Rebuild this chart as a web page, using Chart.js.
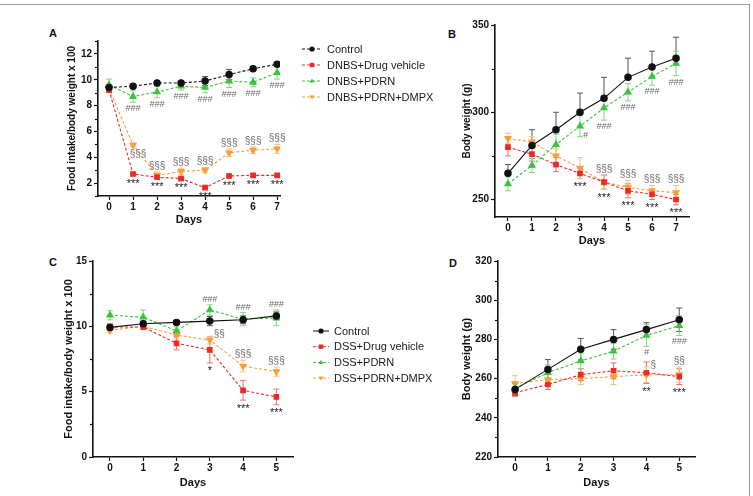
<!DOCTYPE html>
<html><head><meta charset="utf-8">
<script src="https://cdn.jsdelivr.net/npm/chart.js@4/dist/chart.umd.min.js"></script>
<style>
body{margin:0;background:#fff;width:753px;height:496px;overflow:hidden;position:relative;font-family:"Liberation Sans",Arial,sans-serif}
.frame{position:absolute;left:-3px;top:4px;width:753px;height:520px;border-top:1.5px solid #9a9a9a;border-right:1.5px solid #9a9a9a;box-sizing:border-box}
canvas{position:absolute}
.plbl{position:absolute;font-weight:bold;font-size:11px;color:#111;line-height:11px}
</style></head><body>
<div class="frame"></div>
<div class="plbl" style="left:49px;top:28px">A</div>
<div class="plbl" style="left:448px;top:29px">B</div>
<div class="plbl" style="left:49px;top:257px">C</div>
<div class="plbl" style="left:449px;top:258px">D</div>
<canvas id="cA" width="430" height="215" style="left:40px;top:20px"></canvas>
<canvas id="cB" width="260" height="236" style="left:440px;top:14px"></canvas>
<canvas id="cC" width="420" height="245" style="left:40px;top:250px"></canvas>
<canvas id="cD" width="260" height="245" style="left:445px;top:250px"></canvas>
<script>
// ---------- DATA ----------
const daysDNBS = [0,1,2,3,4,5,6,7];
const daysDSS  = [0,1,2,3,4,5];
const groupsDNBS = ['Control','DNBS+Drug vehicle','DNBS+PDRN','DNBS+PDRN+DMPX'];
const groupsDSS  = ['Control','DSS+Drug vehicle','DSS+PDRN','DSS+PDRN+DMPX'];

// Panel A: food intake / body weight x 100 (DNBS)
const foodA_control = [9.4, 9.5, 9.75, 9.75, 9.9, 10.4, 10.85, 11.2];
const foodA_vehicle = [9.2, 2.7, 2.45, 2.35, 1.65, 2.55, 2.6, 2.6];
const foodA_pdrn    = [9.6, 8.7, 9.05, 9.5, 9.4, 9.9, 9.8, 10.55];
const foodA_dmpx    = [9.3, 4.95, 2.6, 2.9, 3.0, 4.35, 4.55, 4.65];
const errA_control  = [0.15, 0.1, 0.1, 0.15, 0.35, 0.4, 0.15, 0.15];
const errA_vehicle  = [0.15, 0.1, 0.1, 0.1, 0.1, 0.1, 0.1, 0.1];
const errA_pdrn     = [0.45, 0.45, 0.45, 0.3, 0.4, 0.5, 0.35, 0.5];
const errA_dmpx     = [0.25, 0.15, 0.25, 0.25, 0.2, 0.3, 0.25, 0.35];
const sigA_vehicle  = ['', '***', '***', '***', '***', '***', '***', '***'];
const sigA_pdrn     = ['', '###', '###', '###', '###', '###', '###', '###'];
const sigA_dmpx     = ['', '§§§', '§§§', '§§§', '§§§', '§§§', '§§§', '§§§'];

// Panel B: body weight (g) (DNBS)
const bwB_control = [265, 281, 290, 300, 308, 320, 326, 331];
const bwB_vehicle = [280, 276, 270, 265, 260, 255, 253, 250];
const bwB_pdrn    = [259, 269.5, 281.5, 292, 302.5, 311.5, 320.5, 328];
const bwB_dmpx    = [285, 283, 275, 268, 260, 257, 255, 254];
const errB_control = [5, 9, 10, 11, 12, 11, 9, 12];
const errB_vehicle = [5, 4, 4, 3, 4, 4, 3, 3];
const errB_pdrn    = [4, 4, 6, 6, 7, 5, 5, 7];
const errB_dmpx    = [3, 3, 4, 6, 4, 4, 3, 4];
const sigB_vehicle = ['', '', '', '***', '***', '***', '***', '***'];
const sigB_pdrn    = ['', '', '', '#', '###', '###', '###', '###'];
const sigB_dmpx    = ['', '', '', '', '§§§', '§§§', '§§§', '§§§'];

// Panel C: food intake / body weight x 100 (DSS)
const foodC_control = [9.92, 10.2, 10.3, 10.4, 10.5, 10.8];
const foodC_vehicle = [9.95, 9.95, 8.7, 8.2, 5.1, 4.6];
const foodC_pdrn    = [10.85, 10.7, 9.65, 11.25, 10.55, 10.65];
const foodC_dmpx    = [9.7, 10.0, 9.33, 8.95, 6.96, 6.53];
const errC_control  = [0.2, 0.2, 0.15, 0.35, 0.3, 0.3];
const errC_vehicle  = [0.25, 0.2, 0.5, 1.0, 0.75, 0.6];
const errC_pdrn     = [0.35, 0.55, 0.3, 0.4, 0.5, 0.6];
const errC_dmpx     = [0.2, 0.2, 0.3, 0.3, 0.45, 0.35];
const sigC_vehicle  = ['', '', '', '*', '***', '***'];
const sigC_pdrn     = ['', '', '', '###', '###', '###'];
const sigC_dmpx     = ['', '', '', '§§', '§§§', '§§§'];

// Panel D: body weight (g) (DSS)
const bwD_control = [254.5, 264.7, 275, 280, 285, 290];
const bwD_vehicle = [252.8, 257, 262, 264, 263, 261];
const bwD_pdrn    = [255, 263, 269, 274, 282, 287];
const bwD_dmpx    = [257.5, 259.5, 260, 261, 262, 262];
const errD_control = [3, 5, 5.5, 5, 3.5, 6];
const errD_vehicle = [2, 2.5, 3, 4, 5.5, 4];
const errD_pdrn    = [3, 4, 4, 4, 5.5, 5];
const errD_dmpx    = [4, 3, 3, 4, 4, 4];
const sigD_vehicle = ['', '', '', '', '**', '***'];
const sigD_pdrn    = ['', '', '', '', '#', '###'];
const sigD_dmpx    = ['', '', '', '', '§', '§§'];

// Tick values
const ticksA_major = [2,4,6,8,10,12];
const ticksA_minor = [1,3,5,7,9,11,13];
const ticksB_major = [250,300,350];
const ticksB_minor = [275,325];
const ticksC_major = [0,5,10,15];
const ticksC_minor = [2.5,7.5,12.5];
const ticksD_major = [220,240,260,280,300,320];
const ticksD_minor = [230,250,270,290,310];

// ---------- STYLE ----------
const FONT = '"Liberation Sans", Arial, sans-serif';
const COL = {control:'#111111', vehicle:'#ee2a24', pdrn:'#3cc23c', dmpx:'#f6a03c'};
const ERRCOL = {control:'#555555', vehicle:'#f0706a', pdrn:'#7fd87f', dmpx:'#f8c07c'};
const SIGSTYLE = {
  '*': {font:'11px '+FONT, color:'#222'},
  '#': {font:'italic 9px '+FONT, color:'#6a6a6a'},
  '§': {font:'10px '+FONT, color:'#6a6a6a'}
};

function mk(label, key, xs, ys, err, sig, opts) {
  opts = opts || {};
  return {
    label, data: ys.map((y,i)=>({x:xs[i], y})),
    err, sig,
    errDir: opts.errDir || 'both',
    sigPos: opts.sigPos || 'below',
    sigOverride: opts.sigOverride || {},
    borderColor: COL[key], backgroundColor: COL[key],
    pointBorderColor: COL[key], pointBackgroundColor: COL[key],
    errColor: ERRCOL[key],
    borderWidth: 1.1,
    borderDash: opts.solid ? [] : [3,2],
    pointStyle: key==='control' ? 'circle' : key==='vehicle' ? 'rect' : 'triangle',
    pointRotation: key==='dmpx' ? 180 : 0,
    pointRadius: key==='control' ? 3.2 : (key==='vehicle' ? 3.2 : 3.6),
    pointHoverRadius: 0,
    tension: 0, fill: false
  };
}

// error bars
const errPlugin = {
  id:'errbars',
  beforeDatasetsDraw(chart){
    const ctx = chart.ctx, ys = chart.scales.y;
    chart.data.datasets.forEach((ds,di)=>{
      const meta = chart.getDatasetMeta(di);
      ctx.save();
      ctx.strokeStyle = ds.errColor; ctx.lineWidth = 1; ctx.setLineDash([]);
      meta.data.forEach((pt,i)=>{
        const v = ds.data[i].y, e = ds.err[i];
        const x = pt.x;
        const top = ys.getPixelForValue(v+e), bot = ys.getPixelForValue(v-e), mid = ys.getPixelForValue(v);
        const y1 = ds.errDir==='down' ? mid : top;
        const y2 = ds.errDir==='up' ? mid : bot;
        ctx.beginPath();
        ctx.moveTo(x,y1); ctx.lineTo(x,y2);
        if (ds.errDir!=='down'){ ctx.moveTo(x-3,top); ctx.lineTo(x+3,top); }
        if (ds.errDir!=='up'){ ctx.moveTo(x-3,bot); ctx.lineTo(x+3,bot); }
        ctx.stroke();
      });
      ctx.restore();
    });
  }
};

// significance labels
const sigPlugin = {
  id:'sig',
  afterDatasetsDraw(chart){
    const ctx = chart.ctx, ys = chart.scales.y;
    chart.data.datasets.forEach((ds,di)=>{
      if(!ds.sig) return;
      const meta = chart.getDatasetMeta(di);
      meta.data.forEach((pt,i)=>{
        const t = ds.sig[i]; if(!t) return;
        const st = SIGSTYLE[t[0]];
        const v = ds.data[i].y, e = ds.err[i];
        const pos = ds.sigOverride[i] || ds.sigPos;
        ctx.save();
        ctx.font = st.font; ctx.fillStyle = st.color;
        let x = pt.x, y;
        if (pos==='below'){ ctx.textAlign='center'; ctx.textBaseline='top'; y = ys.getPixelForValue(v-e)+2; if(t[0]==='*') y+=1; }
        else if (pos==='above'){ ctx.textAlign='center'; ctx.textBaseline='bottom'; y = ys.getPixelForValue(v+e)-1; }
        else if (pos==='right-up'){ ctx.textAlign='left'; ctx.textBaseline='middle'; x += 4; y = ys.getPixelForValue(v+e)-2; }
        else if (pos==='right-down'){ ctx.textAlign='left'; ctx.textBaseline='middle'; x += 3; y = ys.getPixelForValue(v-e)-1; }
        else if (pos==='below-right'){ ctx.textAlign='center'; ctx.textBaseline='top'; x += 5; y = ys.getPixelForValue(v-e)+2; }
        ctx.fillText(t, x, y);
        ctx.restore();
      });
    });
  }
};

// minor ticks on y axis
const minorPlugin = {
  id:'minor',
  afterDraw(chart, args, o){
    if(!o.values) return;
    const ctx = chart.ctx, ys = chart.scales.y, left = chart.chartArea.left;
    ctx.save(); ctx.strokeStyle='#111'; ctx.lineWidth=1.2;
    o.values.forEach(v=>{
      const y = Math.round(ys.getPixelForValue(v))+0.5;
      ctx.beginPath(); ctx.moveTo(left-3,y); ctx.lineTo(left,y); ctx.stroke();
    });
    ctx.restore();
  }
};

function drawMarker(ctx, style, rot, r, x, y){
  ctx.beginPath();
  if(style==='circle'){ ctx.arc(x,y,r,0,Math.PI*2); }
  else if(style==='rect'){ ctx.rect(x-r*0.85,y-r*0.85,r*1.7,r*1.7); }
  else { const s = rot===180 ? -1 : 1; const h = r*1.5;
    ctx.moveTo(x, y - s*r); ctx.lineTo(x + r*0.95, y + s*r*0.6); ctx.lineTo(x - r*0.95, y + s*r*0.6); ctx.closePath(); }
  ctx.fill();
}

// custom legend
const legendPlugin = {
  id:'cleg',
  afterDraw(chart, args, o){
    if(!o.x) return;
    const ctx = chart.ctx;
    chart.data.datasets.forEach((ds,i)=>{
      const y = o.y + i*o.dy;
      ctx.save();
      ctx.strokeStyle = ds.borderColor; ctx.lineWidth = 1;
      ctx.setLineDash(ds.borderDash||[]);
      ctx.beginPath(); ctx.moveTo(o.x,y); ctx.lineTo(o.x+o.len,y); ctx.stroke();
      ctx.setLineDash([]);
      ctx.fillStyle = ds.borderColor;
      drawMarker(ctx, ds.pointStyle, ds.pointRotation, 2.6, o.x+o.len/2, y);
      ctx.fillStyle = '#1a1a1a'; ctx.font = '11px '+FONT;
      ctx.textAlign='left'; ctx.textBaseline='middle';
      ctx.fillText(ds.label, o.x+o.len+5, y+0.5);
      ctx.restore();
    });
  }
};

function makeChart(id, cfg){
  const tickFont = {family:FONT, size:10, weight:'bold'};
  const titleFont = {family:FONT, size:11, weight:'bold'};
  return new Chart(document.getElementById(id), {
    type:'line',
    data:{datasets: cfg.datasets},
    options:{
      responsive:false, animation:false, devicePixelRatio:1,
      layout:{padding:cfg.padding},
      plugins:{legend:{display:false}, tooltip:{enabled:false},
        minor:{values:cfg.minor}, cleg:cfg.legend || {}},
      scales:{
        x:{type:'linear', min:cfg.xmin, max:cfg.xmax,
          afterBuildTicks:s=>{ s.ticks = cfg.xticks.map(v=>({value:v})); },
          afterFit:s=>{ s.height = cfg.xh; },
          ticks:{font:tickFont, color:'#111', padding:1, maxRotation:0, autoSkip:false, callback:v=>String(v)},
          grid:{drawOnChartArea:false, tickLength:4, tickColor:'#111', tickWidth:1.2},
          border:{color:'#111', width:1.6},
          title:{display:true, text:'Days', font:titleFont, color:'#111', padding:{top:0,bottom:cfg.xtitlePad}}
        },
        y:{type:'linear', min:cfg.ymin, max:cfg.ymax,
          afterBuildTicks:s=>{ s.ticks = cfg.yticks.map(v=>({value:v})); },
          afterFit:s=>{ s.width = cfg.yw; },
          ticks:{font:tickFont, color:'#111', padding:2, autoSkip:false, callback:v=>String(v)},
          grid:{drawOnChartArea:false, tickLength:4, tickColor:'#111', tickWidth:1.2},
          border:{color:'#111', width:1.6},
          title:{display:true, text:cfg.ytitle, font:{family:FONT, size:cfg.ytitleSize, weight:'bold'}, color:'#111', padding:{top:cfg.ytitlePad,bottom:0}}
        }
      }
    },
    plugins:[errPlugin, sigPlugin, minorPlugin, legendPlugin]
  });
}

// Panel A
makeChart('cA', {
  datasets:[
    mk(groupsDNBS[0],'control',daysDNBS,foodA_control,errA_control,null),
    mk(groupsDNBS[1],'vehicle',daysDNBS,foodA_vehicle,errA_vehicle,sigA_vehicle,{sigPos:'below'}),
    mk(groupsDNBS[2],'pdrn',daysDNBS,foodA_pdrn,errA_pdrn,sigA_pdrn,{sigPos:'below'}),
    mk(groupsDNBS[3],'dmpx',daysDNBS,foodA_dmpx,errA_dmpx,sigA_dmpx,{sigPos:'above', sigOverride:{1:'below-right'}})
  ],
  padding:{left:0, top:21, right:190, bottom:0},
  xmin:-0.46, xmax:7.12, xticks:daysDNBS, xh:39, xtitlePad:8,
  ymin:1, ymax:13, yticks:ticksA_major, minor:ticksA_minor, yw:58,
  ytitle:'Food intake/body weight x 100', ytitleSize:10, ytitlePad:26,
  legend:{x:262, y:29, dy:16, len:20}
});

// Panel B
makeChart('cB', {
  datasets:[
    mk(groupsDNBS[0],'control',daysDNBS,bwB_control,errB_control,null,{solid:true, errDir:'up'}),
    mk(groupsDNBS[1],'vehicle',daysDNBS,bwB_vehicle,errB_vehicle,sigB_vehicle,{sigPos:'below'}),
    mk(groupsDNBS[2],'pdrn',daysDNBS,bwB_pdrn,errB_pdrn,sigB_pdrn,{sigPos:'below', sigOverride:{3:'right-down'}}),
    mk(groupsDNBS[3],'dmpx',daysDNBS,bwB_dmpx,errB_dmpx,sigB_dmpx,{sigPos:'above'})
  ],
  padding:{left:0, top:11, right:11, bottom:0},
  xmin:-0.54, xmax:7.54, xticks:daysDNBS, xh:33, xtitlePad:2,
  ymin:240, ymax:350, yticks:ticksB_major, minor:ticksB_minor, yw:55,
  ytitle:'Body weight (g)', ytitleSize:10, ytitlePad:21
});

// Panel C
makeChart('cC', {
  datasets:[
    mk(groupsDSS[0],'control',daysDSS,foodC_control,errC_control,null,{solid:true}),
    mk(groupsDSS[1],'vehicle',daysDSS,foodC_vehicle,errC_vehicle,sigC_vehicle,{sigPos:'below'}),
    mk(groupsDSS[2],'pdrn',daysDSS,foodC_pdrn,errC_pdrn,sigC_pdrn,{sigPos:'above'}),
    mk(groupsDSS[3],'dmpx',daysDSS,foodC_dmpx,errC_dmpx,sigC_dmpx,{sigPos:'above', sigOverride:{3:'right-up'}})
  ],
  padding:{left:0, top:11, right:420-(293-40), bottom:0},
  xmin:-0.51, xmax:5.5, xticks:daysDSS, xh:38, xtitlePad:5,
  ymin:0, ymax:15, yticks:ticksC_major, minor:ticksC_minor, yw:53,
  ytitle:'Food intake/body weight x 100', ytitleSize:11, ytitlePad:22,
  legend:{x:273, y:81, dy:15.7, len:16}
});

// Panel D
makeChart('cD', {
  datasets:[
    mk(groupsDSS[0],'control',daysDSS,bwD_control,errD_control,null,{solid:true}),
    mk(groupsDSS[1],'vehicle',daysDSS,bwD_vehicle,errD_vehicle,sigD_vehicle,{sigPos:'below'}),
    mk(groupsDSS[2],'pdrn',daysDSS,bwD_pdrn,errD_pdrn,sigD_pdrn,{sigPos:'below'}),
    mk(groupsDSS[3],'dmpx',daysDSS,bwD_dmpx,errD_dmpx,sigD_dmpx,{sigPos:'above', sigOverride:{4:'right-up'}})
  ],
  padding:{left:0, top:11, right:10, bottom:0},
  xmin:-0.52, xmax:5.48, xticks:daysDSS, xh:38, xtitlePad:5,
  ymin:220, ymax:320, yticks:ticksD_major, minor:ticksD_minor, yw:53,
  ytitle:'Body weight (g)', ytitleSize:11, ytitlePad:15
});
</script>
</body></html>
